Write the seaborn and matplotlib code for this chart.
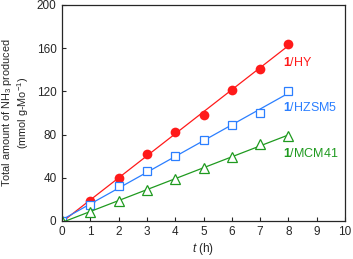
import numpy as np
import pandas as pd
import matplotlib
matplotlib.use("Agg")
import matplotlib.pyplot as plt
import seaborn as sns

# data
hours = [0, 1, 2, 3, 4, 5, 6, 7, 8]
nh3_hy = [0, 18, 40, 62, 82, 98, 121, 141, 164]
nh3_hzsm5 = [0, 15, 32, 46, 60, 75, 89, 100, 120]
nh3_mcm41 = [0, 8, 18, 29, 39, 49, 59, 71, 79]
labels = ["HY", "HZSM5", "MCM41"]

sns.set_style("ticks")
plt.rcParams["font.family"] = ["Liberation Sans", "DejaVu Sans"]
plt.rcParams["mathtext.fontset"] = "custom"
plt.rcParams["mathtext.rm"] = "Liberation Sans"
plt.rcParams["mathtext.it"] = "Liberation Sans:italic"
plt.rcParams["mathtext.bf"] = "Liberation Sans:bold"

fig = plt.figure(figsize=(3.53, 2.59), dpi=100)
ax = fig.add_axes([0.176, 0.147, 0.801, 0.834])

series = [
    (nh3_hy, "#ff1a1a", "o", True, 7),
    (nh3_hzsm5, "#2b7fff", "s", False, 6.3),
    (nh3_mcm41, "#1f9a1f", "^", False, 7),
]

for vals, col, mk, filled, ms in series:
    df = pd.DataFrame({"t": hours, "v": vals})
    # fitted line through the data
    k, b = np.polyfit(df["t"], df["v"], 1)
    fit = pd.DataFrame({"t": [0, 8], "v": [b, k * 8 + b]})
    sns.lineplot(data=fit, x="t", y="v", ax=ax, color=col, lw=0.9)
    sns.lineplot(data=df, x="t", y="v", ax=ax, color=col, lw=0,
                 marker=mk, markersize=ms,
                 markerfacecolor=col if filled else "white",
                 markeredgecolor=col, markeredgewidth=0.9 if not filled else 0)

text_pos = [(7.8, 147), (7.8, 105), (7.8, 62)]
for (x, y), lab, (_, col, _, _, _) in zip(text_pos, labels, series):
    ax.text(x, y, r"$\mathbf{1}$/" + lab, color=col, fontsize=9, va="center")

ax.set_xlim(0, 10)
ax.set_ylim(0, 200)
ax.set_xticks(range(0, 11))
ax.set_yticks(range(0, 201, 40))
ax.tick_params(direction="in", length=3, width=0.8, labelsize=8.5, pad=4)
for s in ax.spines.values():
    s.set_visible(True)
    s.set_linewidth(0.9)
ax.set_xlabel(r"$t$ (h)", fontsize=8.5, labelpad=2)
ax.set_ylabel("Total amount of NH$_3$ produced\n(mmol g-Mo$^{-1}$)",
              fontsize=7.8, labelpad=4, linespacing=1.1)

fig.savefig("out.png", dpi=100)
